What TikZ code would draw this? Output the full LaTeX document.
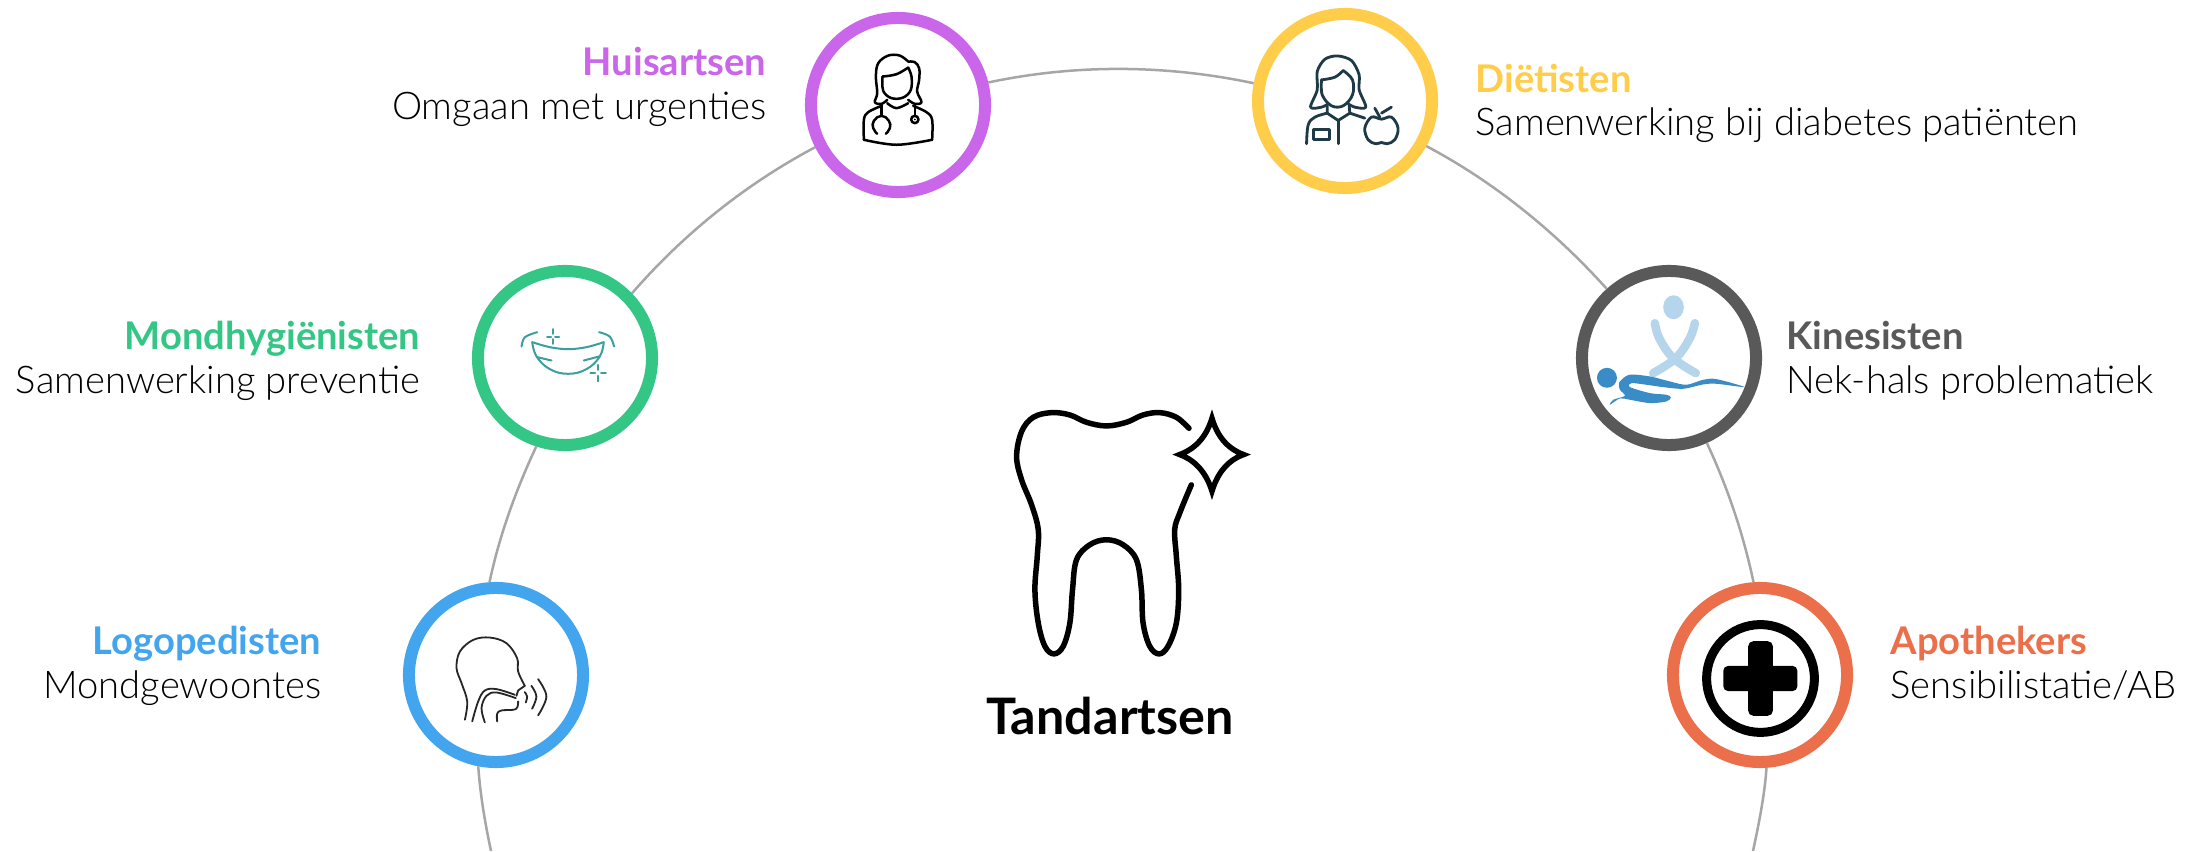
\documentclass[tikz,border=0pt]{standalone}
\usepackage{fontspec}
\setmainfont{Lato Light}[BoldFont=Lato Bold]
\definecolor{huiscol}{HTML}{C966EA}
\definecolor{dietcol}{HTML}{FFCD4A}
\definecolor{mondcol}{HTML}{34C684}
\definecolor{kinecol}{HTML}{595959}
\definecolor{logocol}{HTML}{42A5EE}
\definecolor{apotcol}{HTML}{EA6F4A}
\definecolor{arccol}{HTML}{A6A6A6}
\definecolor{navycol}{HTML}{1F3A47}
\definecolor{tealcol}{HTML}{3D9EA0}
\definecolor{palecol}{HTML}{B5D5EC}
\definecolor{bluecol}{HTML}{3A8CC6}

\begin{document}
\begin{tikzpicture}[
        x=0.01cm, y=0.01cm,
        ring/.style={circle, line width=0.12cm, minimum size=1.74cm, inner sep=0pt, fill=white, draw=#1},
        arcline/.style={draw=arccol, line width=0.025cm, looseness=0.86},
        caption/.style={align=#1, inner sep=0pt, font=\fontsize{10.85}{12.4}\selectfont},
        zoomed/.style={x=0.003333cm, y=-0.003333cm},
        lines/.style={line width=#1, line cap=round, line join=round}]
    \useasboundingbox (0,0) rectangle (2203,851);

    \node [ring=huiscol] (huisartsen) at (898,746) {};
    \node [ring=dietcol] (dietisten) at (1345,750) {};
    \node [ring=mondcol] (mondhygienisten) at (565,493) {};
    \node [ring=kinecol] (kinesisten) at (1669,493) {};
    \node [ring=logocol] (logopedisten) at (496,176) {};
    \node [ring=apotcol] (apothekers) at (1760,176) {};
    \coordinate (botleft) at (491,0);
    \coordinate (botright) at (1753,0);

    \draw [arcline] (botleft) to[out=102, in=274] (logopedisten.259);
    \draw [arcline] (logopedisten.94) to[out=78, in=245] (mondhygienisten.252);
    \draw [arcline] (mondhygienisten.44) to[out=49, in=208] (huisartsen.207);
    \draw [arcline] (huisartsen.14) to[out=12, in=168] (dietisten.169);
    \draw [arcline] (dietisten.331) to[out=-28, in=132] (kinesisten.132);
    \draw [arcline] (kinesisten.294) to[out=-65, in=102] (apothekers.94);
    \draw [arcline] (apothekers.274) to[out=-94, in=78] (botright);

    \node [caption=right, anchor=base east] (huistext) at (767,731.5) {\textbf{\textcolor{huiscol}{Huisartsen}}\\Omgaan met urgenties};
    \node [caption=left, anchor=base west] (diettext) at (1475,715) {\textbf{\textcolor{dietcol}{Diëtisten}}\\Samenwerking bij diabetes patiënten};
    \node [caption=right, anchor=base east] (mondtext) at (421,458) {\textbf{\textcolor{mondcol}{Mondhygiënisten}}\\Samenwerking preventie};
    \node [caption=left, anchor=base west] (kinetext) at (1786,458) {\textbf{\textcolor{kinecol}{Kinesisten}}\\Nek-hals problematiek};
    \node [caption=right, anchor=base east] (logotext) at (322,152.5) {\textbf{\textcolor{logocol}{Logopedisten}}\\Mondgewoontes};
    \node [caption=left, anchor=base west] (apottext) at (1890,152.5) {\textbf{\textcolor{apotcol}{Apothekers}}\\Sensibilistatie/AB};
    \node [anchor=base, font=\fontsize{14.3}{16}\selectfont\bfseries] (tandtext) at (1110,117) {Tandartsen};

    % tooth
    \begin{scope}[shift={(980,461)}, zoomed]
        \draw [lines=0.055cm] plot[smooth, tension=0.6] coordinates {(628,115) (590,82) (540,68) (490,75) (440,97) (380,108) (320,97) (270,75) (215,68) (160,82) (125,125) (110,200) (125,270) (155,345) (175,420) (172,500) (165,600) (175,700) (195,770) (222,793) (250,770) (270,700) (278,600) (290,510) (330,465) (380,450) (430,465) (470,510) (485,600) (490,700) (510,770) (538,793) (565,770) (590,700) (597,600) (590,500) (585,420) (600,370) (635,285)};
        \draw [line width=0.055cm, line join=miter, miter limit=12] (697,85) .. controls (712,135) and (740,175) .. (792,194) .. controls (740,213) and (712,255) .. (697,304) .. controls (682,255) and (652,213) .. (600,194) .. controls (652,175) and (682,135) .. (697,85) -- cycle;
    \end{scope}

    % doctor
    \begin{scope}[shift={(800,846)}, zoomed, lines=0.025cm]
        \draw plot[smooth, tension=0.6] coordinates {(262,285) (245,297) (225,292) (232,265) (228,215) (235,175) (265,152) (300,152) (325,170)};
        \draw plot[smooth, tension=0.6] coordinates {(325,170) (345,172) (358,190) (358,225) (352,260) (365,292) (345,297) (325,285)};
        \draw plot[smooth, tension=0.6] coordinates {(248,215) (290,208) (325,188)};
        \draw plot[smooth, tension=0.6] coordinates {(325,188) (335,215) (333,255) (310,278) (275,280) (250,258) (248,215)};
        \draw plot[smooth, tension=0.6] coordinates {(262,295) (290,310) (325,295)};
        \draw plot[smooth, tension=0.6] coordinates {(245,303) (205,322) (192,345) (192,405)};
        \draw plot[smooth, tension=0.6] coordinates {(192,405) (290,420) (397,405)};
        \draw plot[smooth, tension=0.6] coordinates {(397,405) (397,345) (380,322) (340,303)};
        \draw (245,300) -- (245,332);
        \draw plot[smooth, tension=0.8] coordinates {(232,387) (220,370) (222,348) (245,333) (267,348) (270,370) (258,387)};
        \draw (345,300) -- (345,332);
        \draw (345,344) circle[radius=11];
        \fill (345,344) circle[radius=3];
    \end{scope}

    % dietitian and apple
    \begin{scope}[shift={(1240,851)}, zoomed, lines=0.028cm, navycol]
        \draw plot[smooth, tension=0.5] coordinates {(265,312) (245,322) (212,322) (232,270) (232,215) (255,178) (293,168) (335,182) (358,225) (358,270) (378,322) (345,322) (325,312)};
        \draw plot[smooth, tension=0.6] coordinates {(245,240) (285,232) (310,212)};
        \draw plot[smooth, tension=0.6] coordinates {(310,212) (338,240) (338,285) (310,318) (275,318) (247,285) (245,240)};
        \draw (262,318) -- (262,340) -- (295,362) -- (330,340) -- (328,318);
        \draw plot[smooth, tension=0.6] coordinates {(262,340) (225,352) (205,375) (200,432)};
        \draw (330,340) -- (375,355);
        \draw (295,362) -- (295,432);
        \draw (222,390) rectangle (270,418);
        \draw plot[smooth cycle, tension=0.6] coordinates {(425,358) (395,352) (375,385) (385,420) (408,432) (425,428) (442,432) (465,420) (475,385) (455,352)};
        \draw (420,352) -- (405,325);
        \draw (425,340) -- (455,322);
    \end{scope}

    % smile
    \begin{scope}[shift={(460,601)}, zoomed, lines=0.02cm, tealcol]
        \draw plot[smooth, tension=0.6] coordinates {(217,277) (270,292) (325,298) (380,292) (432,277)};
        \draw plot[smooth, tension=0.7] coordinates {(217,277) (230,320) (270,358) (325,372) (380,358) (420,320) (432,277)};
        \draw (232,322) -- (275,332);
        \draw (372,332) -- (418,320);
        \draw plot[smooth, tension=0.6] coordinates {(185,290) (195,262) (232,247)};
        \draw plot[smooth, tension=0.6] coordinates {(418,247) (450,260) (463,290)};
        \draw (280,238) -- (280,252) (280,268) -- (280,282) (262,260) -- (274,260) (286,260) -- (298,260);
        \draw (415,345) -- (415,360) (415,378) -- (415,395) (392,370) -- (406,370) (424,370) -- (438,370);
    \end{scope}

    % massage
    \begin{scope}[shift={(1570,601)}, zoomed]
        \fill [palecol] (311,172) ellipse[x radius=31, y radius=36];
        \draw [palecol, lines=0.085cm] plot[smooth, tension=0.6] coordinates {(255,220) (268,265) (310,325) (378,370)};
        \draw [palecol, lines=0.085cm] plot[smooth, tension=0.6] coordinates {(375,220) (360,265) (318,325) (250,370)};
        \fill [bluecol] (111,384) circle[radius=30];
        \fill [bluecol] plot[smooth cycle, tension=0.5] coordinates {(148,398) (178,375) (240,380) (300,395) (350,405) (400,390) (440,388) (525,412) (440,402) (400,404) (340,417) (280,412) (230,405) (185,400) (180,412) (240,430) (290,435) (303,443) (290,455) (240,460) (180,450) (150,446) (120,465) (130,450) (165,438) (150,420)};
    \end{scope}

    % head and sound
    \begin{scope}[shift={(390,281)}, zoomed, lines=0.018cm, black!85]
        \draw plot[smooth, tension=0.6] coordinates {(225,450) (232,395) (215,340) (200,295) (210,245) (250,210) (300,203) (350,220) (382,265) (385,305) (405,348)};
        \draw (405,348) -- (385,362) -- (380,378);
        \draw plot[smooth, tension=0.6] coordinates {(385,395) (378,418) (335,422) (322,432) (322,455)};
        \draw plot[smooth, tension=0.6] coordinates {(247,455) (265,395) (285,362) (320,358) (375,375)};
        \draw plot[smooth, tension=0.6] coordinates {(285,458) (275,415) (290,378) (320,368) (378,385)};
        \draw plot[smooth, tension=0.6] coordinates {(405,367) (412,380) (408,398)};
        \draw plot[smooth, tension=0.6] coordinates {(425,348) (440,380) (427,417)};
        \draw plot[smooth, tension=0.6] coordinates {(445,328) (470,380) (445,437)};
    \end{scope}

    % plus
    \begin{scope}[shift={(1660,281)}, zoomed]
        \draw [line width=0.09cm] (302,326) circle[radius=162];
        \fill [rounded corners=0.05cm] (265,214) rectangle (339,438) (190,288) rectangle (413,364);
    \end{scope}
\end{tikzpicture}
\end{document}
